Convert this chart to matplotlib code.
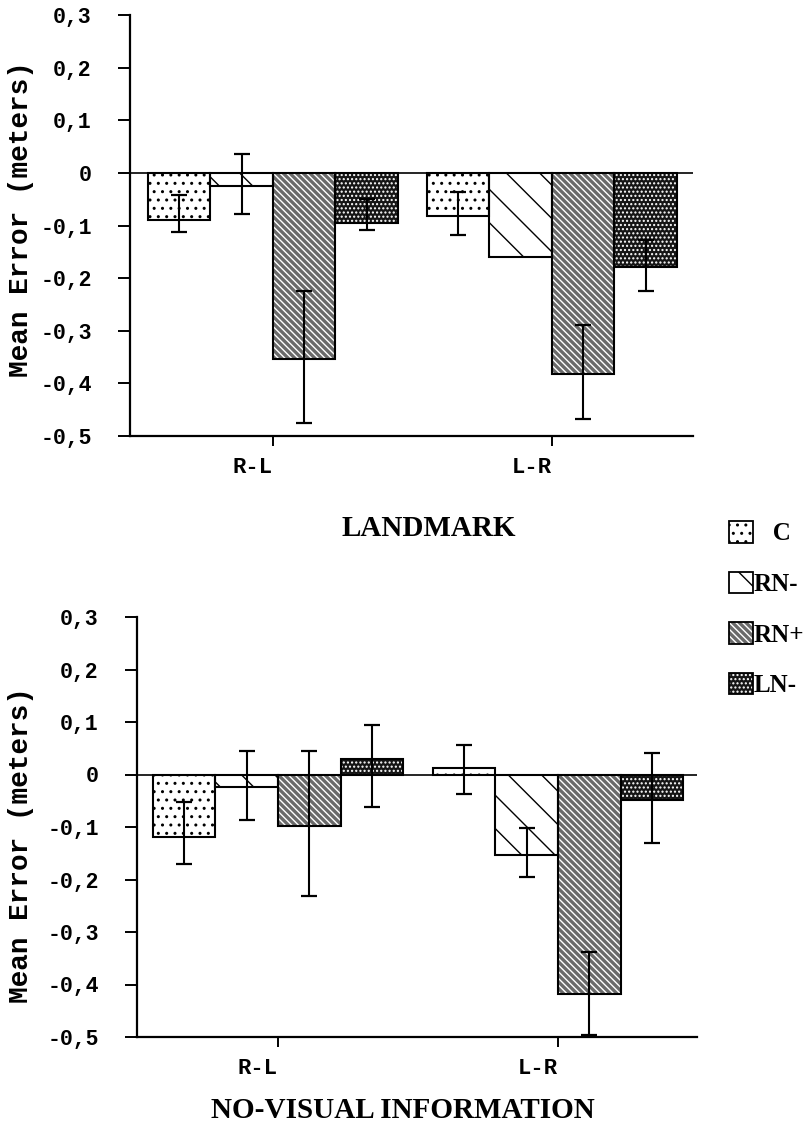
import numpy as np
import matplotlib.pyplot as plt
from matplotlib.patches import Patch

# groups on the x axis and the four conditions
groups = ['R-L', 'L-R']
conditions = ['C', 'RN-', 'RN+', 'LN-']

# LANDMARK panel: mean error and error bar ends, one pair (R-L, L-R) per condition
landmark_mean = [[-0.089, -0.082], [-0.025, -0.159], [-0.354, -0.382], [-0.095, -0.178]]
landmark_hi = [[-0.042, -0.037], [0.036, np.nan], [-0.224, -0.289], [-0.050, -0.127]]
landmark_lo = [[-0.112, -0.119], [-0.078, np.nan], [-0.476, -0.468], [-0.108, -0.224]]

# NO-VISUAL INFORMATION panel
novis_mean = [[-0.119, 0.012], [-0.023, -0.154], [-0.098, -0.419], [0.029, -0.048]]
novis_hi = [[-0.053, 0.056], [0.044, -0.102], [0.044, -0.338], [0.094, 0.041]]
novis_lo = [[-0.171, -0.037], [-0.086, -0.195], [-0.232, -0.497], [-0.061, -0.130]]

yticks = [0.3, 0.2, 0.1, 0, -0.1, -0.2, -0.3, -0.4, -0.5]
ytick_labels = ['0,3', '0,2', '0,1', '0', '-0,1', '-0,2', '-0,3', '-0,4', '-0,5']

# face colour, hatch, hatch colour per condition
styles = [('white', '..', 'black'),
          ('white', '\\', 'black'),
          ('#6a6a6a', '\\\\\\\\\\', 'white'),
          ('#151515', '....', 'white')]

plt.rcParams['hatch.linewidth'] = 1.0
mono = 'Liberation Mono'
serif = 'Liberation Serif'
width = 0.224

fig = plt.figure(figsize=(8.06, 11.33), dpi=100)


def draw_panel(ax, mean, hi, lo, xlim, ylab_pos):
    x = np.arange(len(groups))
    for i in range(len(conditions)):
        pos = x + (i - 1.5) * width
        face, hatch, hcol = styles[i]
        ax.bar(pos, mean[i], width, color=face, edgecolor=hcol, hatch=hatch,
               linewidth=0, zorder=2)
        ax.bar(pos, mean[i], width, fill=False, edgecolor='black', linewidth=1.5, zorder=3)
        m = np.array(mean[i])
        h = np.array(hi[i])
        l = np.array(lo[i])
        ok = ~np.isnan(h)
        ax.errorbar(pos[ok], m[ok], yerr=[m[ok] - l[ok], h[ok] - m[ok]], fmt='none',
                    ecolor='black', elinewidth=1.5, capsize=5.5, capthick=1.6, zorder=4)
    ax.axhline(0, color='black', linewidth=1.2, zorder=3)
    ax.set_xlim(*xlim)
    ax.set_ylim(-0.5, 0.3)
    for s in ['top', 'right']:
        ax.spines[s].set_visible(False)
    for s in ['left', 'bottom']:
        ax.spines[s].set_linewidth(1.6)
    ax.set_yticks(yticks)
    ax.set_yticklabels(ytick_labels, fontfamily=mono, fontweight='bold', fontsize=15.5)
    ax.set_xticks(x)
    ax.set_xticklabels(groups, fontfamily=mono, fontweight='bold', fontsize=16, ha='right')
    ax.tick_params(axis='y', direction='out', length=8.6, width=1.4, pad=19)
    ax.tick_params(axis='x', direction='out', length=7, width=1.4, pad=8)
    ax.set_ylabel('Mean Error (meters)', fontfamily=mono, fontweight='bold', fontsize=20)
    ax.yaxis.label.set_verticalalignment('center')
    ax.yaxis.set_label_coords(*ylab_pos)


ax1 = fig.add_axes([130 / 806, 1 - 436 / 1133, 563 / 806, 421 / 1133])
draw_panel(ax1, landmark_mean, landmark_hi, landmark_lo, (-0.5125, 1.5054),
           ((21 - 130) / 563, 0.515))

ax2 = fig.add_axes([137 / 806, 1 - 1037 / 1133, 560 / 806, 420 / 1133])
draw_panel(ax2, novis_mean, novis_hi, novis_lo, (-0.5036, 1.4964),
           ((21 - 137) / 560, 0.457))

fig.text(429 / 806, 1 - 529 / 1133, 'LANDMARK', ha='center', va='center',
         fontfamily=serif, fontweight='bold', fontsize=21)
fig.text(403 / 806, 1 - 1110 / 1133, 'NO-VISUAL INFORMATION', ha='center', va='center',
         fontfamily=serif, fontweight='bold', fontsize=21)

handles = [(Patch(facecolor=f, edgecolor=hc, hatch=h, linewidth=0),
            Patch(fill=False, edgecolor='black', linewidth=1.3)) for f, h, hc in styles]
labels = ['   C', 'RN-', 'RN+', 'LN-']
fig.legend(handles, labels, loc='upper left', bbox_to_anchor=(729 / 806, 1 - 521 / 1133),
           frameon=False, prop={'family': serif, 'weight': 'bold', 'size': 18},
           handlelength=0.95, handleheight=0.95, handletextpad=0.05, labelspacing=1.05,
           borderaxespad=0, borderpad=0)

fig.savefig('out.png', dpi=100)
